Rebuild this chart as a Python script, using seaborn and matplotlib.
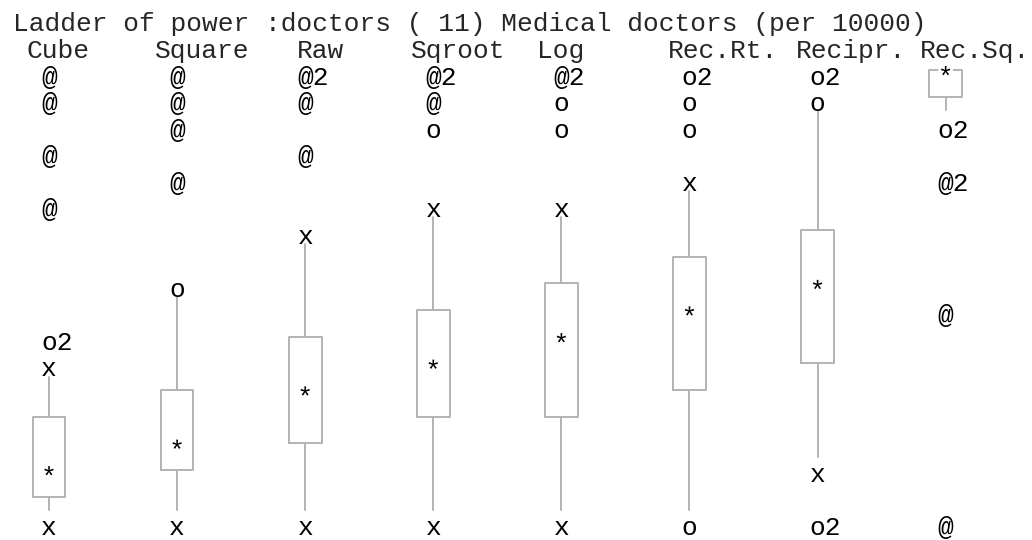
import matplotlib
matplotlib.use('Agg')
import matplotlib.pyplot as plt
import matplotlib.patheffects as pe
from matplotlib.transforms import offset_copy
import seaborn as sns
import pandas as pd

# ==========================================
# data (rows: 0 = bottom symbol row, 17 = top symbol row)
# ==========================================
title = 'Ladder of power :doctors ( 11) Medical doctors (per 10000)'
labels = ['Cube', 'Square', 'Raw', 'Sqroot', 'Log', 'Rec.Rt.', 'Recipr.', 'Rec.Sq.']

q1 = [1.16, 2.17, 3.20, 4.20, 4.20, 5.21, 6.21, 16.26]
med = [2.07, 3.07, 5.08, 6.09, 7.09, 8.10, 9.10, 17.17]
q3 = [4.20, 5.21, 7.22, 8.23, 9.23, 10.23, 11.24, 17.28]
whis_lo = [0.68, 0.68, 0.68, 0.68, 0.68, 0.68, 2.69, 15.77]
whis_hi = [5.71, 8.73, 10.72, 11.72, 11.72, 12.72, 15.77, 17.28]

# outside / adjacent values: column, row, symbol, count
sym_col = [0, 0, 0, 0, 0, 0, 0,
           1, 1, 1, 1, 1, 1,
           2, 2, 2, 2, 2,
           3, 3, 3, 3, 3,
           4, 4, 4, 4, 4,
           5, 5, 5, 5, 5,
           6, 6, 6, 6,
           7, 7, 7, 7]
sym_row = [17, 16, 14, 12, 7, 6, 0,
           17, 16, 15, 13, 9, 0,
           17, 16, 14, 11, 0,
           17, 16, 15, 12, 0,
           17, 16, 15, 12, 0,
           17, 16, 15, 13, 0,
           17, 16, 2, 0,
           15, 13, 8, 0]
sym_char = ['@', '@', '@', '@', 'o', 'x', 'x',
            '@', '@', '@', '@', 'o', 'x',
            '@', '@', '@', 'x', 'x',
            '@', '@', 'o', 'x', 'x',
            '@', 'o', 'o', 'x', 'x',
            'o', 'o', 'o', 'x', 'o',
            'o', 'o', 'x', 'o',
            'o', '@', '@', '@']
sym_n = [1, 1, 1, 1, 2, 1, 1,
         1, 1, 1, 1, 1, 1,
         2, 1, 1, 1, 1,
         2, 1, 1, 1, 1,
         2, 1, 1, 1, 1,
         2, 1, 1, 1, 1,
         2, 1, 1, 2,
         2, 2, 1, 1]

df = pd.DataFrame({'col': sym_col, 'row': sym_row, 'sym': sym_char, 'n': sym_n})

# ==========================================
# plot
# ==========================================
sns.set_style('white')
plt.rcParams['font.family'] = ['Liberation Mono', 'DejaVu Sans Mono']
FS = 18.9
GREY = '#b3b3b3'

fig = plt.figure(figsize=(10.32, 5.4), dpi=100)
ax = fig.add_axes([0, 0, 1, 1])

stats = []
for i in range(len(labels)):
    stats.append({'med': med[i], 'q1': q1[i], 'q3': q3[i],
                  'whislo': whis_lo[i], 'whishi': whis_hi[i], 'fliers': []})

ax.bxp(stats, positions=range(len(labels)), widths=0.255, showfliers=False,
       showcaps=False, patch_artist=False,
       boxprops=dict(color=GREY, linewidth=1.4),
       whiskerprops=dict(color=GREY, linewidth=1.4),
       medianprops=dict(visible=False))

# median stars
star_tr = offset_copy(ax.transData, fig=fig, x=0, y=-5, units='dots')
for i in range(len(labels)):
    ax.text(i, med[i], '*', ha='center', va='center', fontsize=FS,
            transform=star_tr, color='black',
            path_effects=[pe.withStroke(linewidth=4, foreground='white')])

# symbols: first char centred on the column, count right after it
sym_tr = offset_copy(ax.transData, fig=fig, x=-7.85, y=0, units='dots')
for _, r in df.iterrows():
    s = r['sym'] + (str(r['n']) if r['n'] > 1 else '')
    ax.text(r['col'], r['row'], s, ha='left', va='center', fontsize=FS,
            transform=sym_tr, color='black')

ax.set_xlim(-0.3825, 7.674)
ax.set_ylim(-0.453, 19.925)
ax.axis('off')

# header texts
fig.text(13 / 1032, 1 - 24.5 / 540, title, ha='left', va='center', fontsize=FS)
label_px = [27, 155, 297, 411, 537, 668, 796, 920]
for lab, px in zip(labels, label_px):
    fig.text(px / 1032, 1 - 51 / 540, lab, ha='left', va='center', fontsize=FS)

fig.savefig('out.png', dpi=100, facecolor='white')
